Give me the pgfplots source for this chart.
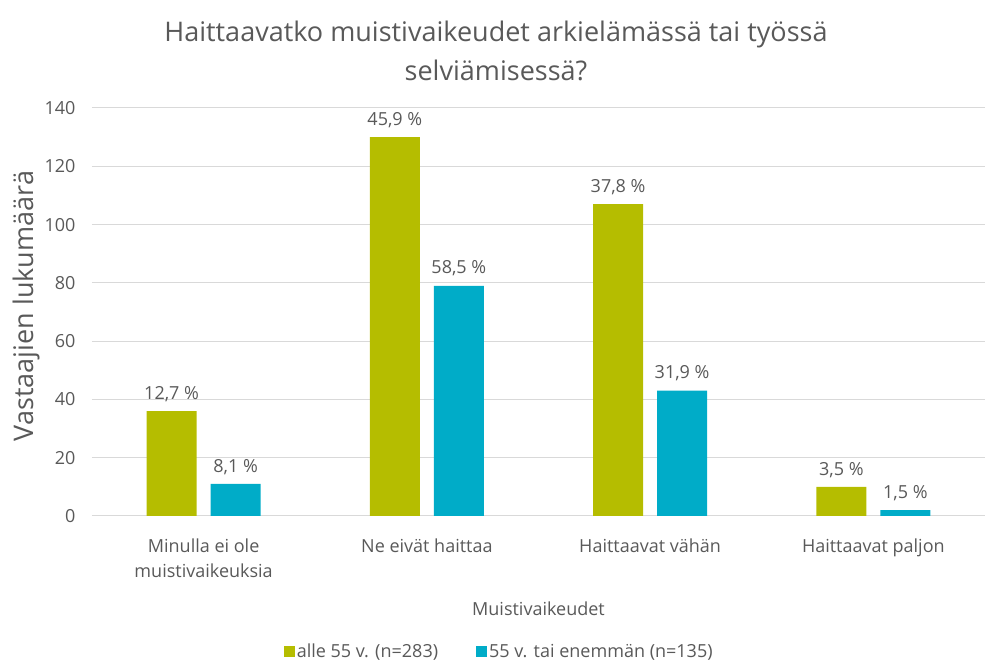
\documentclass[border=0pt]{standalone}
\usepackage{fontspec}
\setmainfont{Open Sans}
\usepackage{pgfplots}
\pgfplotsset{compat=1.18}
\definecolor{cgreen}{HTML}{B5BD00}
\definecolor{cblue}{HTML}{00ACC8}
\definecolor{ctext}{HTML}{595959}
\definecolor{cgrid}{HTML}{D9D9D9}
\begin{document}
\begin{tikzpicture}[x=1pt,y=1pt]
\useasboundingbox (0,0) rectangle (985,661);
% title
\node[text=ctext, font=\fontsize{27}{32}\selectfont] at (496,627) {Haittaavatko muistivaikeudet arkielämässä tai työssä};
\node[text=ctext, font=\fontsize{27}{32}\selectfont] at (496,591) {selviämisessä?};
% y label
\node[text=ctext, font=\fontsize{27}{32}\selectfont, rotate=90] at (26,355) {Vastaajien lukumäärä};
\begin{axis}[
  at={(92pt,145pt)}, anchor=south west,
  scale only axis, width=893pt, height=408pt,
  ybar=14pt, bar width=50pt,
  xmin=-0.5, xmax=3.5, ymin=0, ymax=140,
  ytick={0,20,...,140},
  xtick={0,1,2,3},
  xticklabels={{Minulla ei ole\\muistivaikeuksia},{Ne eivät haittaa},{Haittaavat vähän},{Haittaavat paljon}},
  xticklabel style={align=center, text=ctext, font=\fontsize{18}{25}\selectfont, yshift=-19pt, anchor=north},
  yticklabel style={text=ctext, font=\fontsize{18}{20}\selectfont, xshift=-13pt},
  /pgf/number format/assume math mode=true,
  axis line style={draw=none},
  major tick length=0pt,
  ymajorgrids, grid style={cgrid, line width=1pt},
  xlabel={Muistivaikeudet},
  xlabel style={text=ctext, font=\fontsize{18}{20}\selectfont, yshift=-18pt},
  nodes near coords, point meta=explicit symbolic,
  every node near coord/.append style={text=ctext, font=\fontsize{18}{20}\selectfont, yshift=6pt},
  legend style={draw=none, at={(0.456,-0.333)}, anchor=center, legend columns=2,
    font=\fontsize{18}{20}\selectfont, text=ctext,
    /tikz/every even column/.append style={column sep=36pt}},
  legend image code/.code={\fill[#1] (0pt,-5pt) rectangle (11pt,6pt);},
]
\addplot[fill=cgreen, draw=none] coordinates {(0,36) [12,7 \%] (1,130) [45,9 \%] (2,107) [37,8 \%] (3,10) [3,5 \%]};
\addplot[fill=cblue, draw=none] coordinates {(0,11) [8,1 \%] (1,79) [58,5 \%] (2,43) [31,9 \%] (3,2) [1,5 \%]};
\legend{alle 55 v. (n=283), 55 v. tai enemmän (n=135)}
\end{axis}
\end{tikzpicture}
\end{document}
